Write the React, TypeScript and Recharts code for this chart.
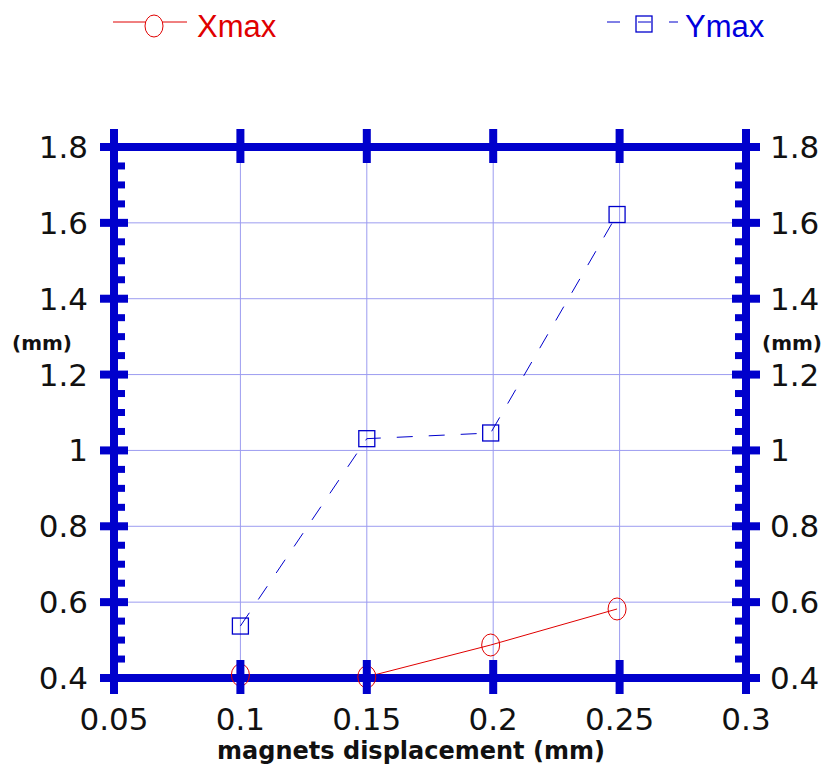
import React from 'react';
import { LineChart, Line, XAxis, YAxis, CartesianGrid } from 'recharts';

const displacement = [0.1, 0.15, 0.199, 0.249];
const xmaxValues = [0.408, 0.403, 0.487, 0.582];
const ymaxValues = [0.537, 1.031, 1.046, 1.622];

const xTicks = [0.05, 0.1, 0.15, 0.2, 0.25, 0.3];
const yMajorTicks = [0.4, 0.6, 0.8, 1, 1.2, 1.4, 1.6, 1.8];
const yMinorTicks = [
  0.45, 0.5, 0.55, 0.65, 0.7, 0.75, 0.85, 0.9, 0.95, 1.05, 1.1, 1.15,
  1.25, 1.3, 1.35, 1.45, 1.5, 1.55, 1.65, 1.7, 1.75,
];
const yTicks = [...yMajorTicks, ...yMinorTicks].sort((a, b) => a - b);

const data = displacement.map((x, i) => ({ x, xmax: xmaxValues[i], ymax: ymaxValues[i] }));

const AXIS = '#0000cc';
const GRID = '#9c9cf0';
const RED = '#e00000';
const BLUE = '#0000cc';
const TICK_FONT = '"DejaVu Sans", sans-serif';

const isMajor = (v: number) => yMajorTicks.some((m) => Math.abs(m - v) < 1e-6);

function LeftTick({ x, y, payload }: any) {
  const major = isMajor(payload.value);
  return (
    <g>
      {major ? (
        <rect x={x - 14} y={y - 4} width={28} height={8} fill={AXIS} />
      ) : (
        <rect x={x} y={y - 3.5} width={11} height={7} fill={AXIS} />
      )}
      {major && (
        <text x={x - 26} y={y} textAnchor="end" dominantBaseline="central" fontSize={31} fontFamily={TICK_FONT} fill="#111">
          {payload.value}
        </text>
      )}
    </g>
  );
}

function RightTick({ x, y, payload }: any) {
  const major = isMajor(payload.value);
  return (
    <g>
      {major ? (
        <rect x={x - 14} y={y - 4} width={28} height={8} fill={AXIS} />
      ) : (
        <rect x={x - 11} y={y - 3.5} width={11} height={7} fill={AXIS} />
      )}
      {major && (
        <text x={x + 24} y={y} textAnchor="start" dominantBaseline="central" fontSize={31} fontFamily={TICK_FONT} fill="#111">
          {payload.value}
        </text>
      )}
    </g>
  );
}

function BottomTick({ x, y, payload }: any) {
  return (
    <g>
      <rect x={x - 4} y={y - 18} width={8} height={34} fill={AXIS} />
      <text x={x} y={y + 41} textAnchor="middle" dominantBaseline="central" fontSize={31} fontFamily={TICK_FONT} fill="#111">
        {payload.value}
      </text>
    </g>
  );
}

function TopTick({ x, y }: any) {
  return <rect x={x - 4} y={y - 18} width={8} height={34} fill={AXIS} />;
}

const circleDot = (p: any) => (
  <ellipse key={`c-${p.index}`} cx={p.cx} cy={p.cy} rx={9} ry={11} fill="none" stroke={RED} strokeWidth={1} />
);

const squareDot = (p: any) => (
  <rect key={`s-${p.index}`} x={p.cx - 8} y={p.cy - 8} width={16} height={16} fill="none" stroke={BLUE} strokeWidth={1.3} />
);

function LegendBar() {
  return (
    <svg width={831} height={60} style={{ position: 'absolute', left: 0, top: 0 }}>
      <line x1={113} x2={187} y1={22} y2={22} stroke={RED} strokeWidth={1} />
      <ellipse cx={154} cy={26} rx={9} ry={11} fill="white" stroke={RED} strokeWidth={1} />
      <text x={197} y={37} fontSize={31} fontFamily='"Liberation Sans", Arial, sans-serif' fill={RED}>
        Xmax
      </text>
      <line x1={607} x2={678} y1={22} y2={22} stroke={BLUE} strokeWidth={1} strokeDasharray="13 18" />
      <rect x={636} y={16} width={16} height={16} fill="none" stroke={BLUE} strokeWidth={1.3} />
      <text x={685} y={37} fontSize={31} fontFamily='"Liberation Sans", Arial, sans-serif' fill="#0000dd">
        Ymax
      </text>
    </svg>
  );
}

export default function App() {
  const axisLine = { stroke: AXIS, strokeWidth: 8, strokeLinecap: 'square' as const };
  return (
    <div style={{ position: 'absolute', left: 0, top: 0, width: 831, height: 774, background: 'white' }}>
      <LineChart width={831} height={774} data={data} margin={{ top: 146, right: 0, bottom: 0, left: 0 }}>
        <CartesianGrid
          xAxisId="bottom"
          yAxisId="left"
          stroke={GRID}
          strokeWidth={1}
          horizontalValues={yMajorTicks}
          verticalValues={xTicks}
        />
        <XAxis
          xAxisId="bottom"
          dataKey="x"
          type="number"
          domain={[0.05, 0.3]}
          ticks={xTicks}
          interval={0}
          height={96}
          axisLine={axisLine}
          tickLine={false}
          tickSize={0}
          tickMargin={0}
          tick={<BottomTick />}
          label={{
            value: 'magnets displacement (mm)',
            position: 'insideBottom',
            offset: 15,
            dx: -19,
            fontSize: 24,
            fontWeight: 'bold',
            fontFamily: TICK_FONT,
            fill: '#111',
          }}
        />
        <XAxis
          xAxisId="top"
          orientation="top"
          dataKey="x"
          type="number"
          domain={[0.05, 0.3]}
          ticks={xTicks}
          interval={0}
          height={1}
          axisLine={axisLine}
          tickLine={false}
          tickSize={0}
          tickMargin={0}
          tick={<TopTick />}
        />
        <YAxis
          yAxisId="left"
          type="number"
          domain={[0.4, 1.8]}
          ticks={yTicks}
          interval={0}
          width={114}
          axisLine={axisLine}
          tickLine={false}
          tickSize={0}
          tickMargin={0}
          tick={<LeftTick />}
          label={{ value: '(mm)', position: 'insideLeft', offset: 12, dy: -70, fontSize: 20, fontWeight: 'bold', fontFamily: TICK_FONT, fill: '#111' }}
        />
        <YAxis
          yAxisId="right"
          orientation="right"
          type="number"
          domain={[0.4, 1.8]}
          ticks={yTicks}
          interval={0}
          width={85}
          axisLine={axisLine}
          tickLine={false}
          tickSize={0}
          tickMargin={0}
          tick={<RightTick />}
          label={{ value: '(mm)', position: 'insideRight', offset: 9, dy: -70, fontSize: 20, fontWeight: 'bold', fontFamily: TICK_FONT, fill: '#111' }}
        />
        {/* invisible series so the top and right axes get their ticks */}
        <Line
          xAxisId="top"
          yAxisId="right"
          dataKey="ymax"
          stroke="none"
          dot={false}
          activeDot={false}
          legendType="none"
          isAnimationActive={false}
        />
        <Line
          xAxisId="bottom"
          yAxisId="left"
          dataKey="xmax"
          type="linear"
          stroke={RED}
          strokeWidth={1}
          dot={circleDot}
          activeDot={false}
          isAnimationActive={false}
        />
        <Line
          xAxisId="bottom"
          yAxisId="left"
          dataKey="ymax"
          type="linear"
          stroke={BLUE}
          strokeWidth={1}
          strokeDasharray="16 16"
          dot={squareDot}
          activeDot={false}
          isAnimationActive={false}
        />
      </LineChart>
      <LegendBar />
    </div>
  );
}
